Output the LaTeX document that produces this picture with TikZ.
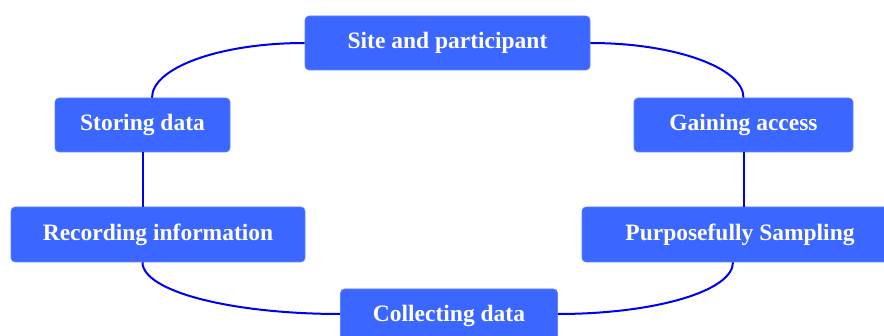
\documentclass[tikz,border=0pt]{standalone}
\usepackage{fontspec}
\setmainfont{Liberation Serif}
\definecolor{boxfill}{RGB}{59,102,255}
\definecolor{boxedge}{RGB}{96,132,255}
\definecolor{linkblue}{RGB}{0,0,240}
\begin{document}
\begin{tikzpicture}[x=1pt,y=1pt,
  stagebox/.style={rectangle, rounded corners=4pt, fill=boxfill, draw=boxedge, line width=0.6pt,
    text=white, font=\fontsize{23.5}{28}\selectfont\bfseries, minimum height=54pt, inner sep=0pt},
  link/.style={draw=linkblue, line width=2pt}]
  \useasboundingbox (0,0) rectangle (884,-336);

  % cycle stages
  \node[stagebox, minimum width=285pt] (site) at (447.5,-43) {Site and participant};
  \node[stagebox, minimum width=175pt] (sto)  at (142.5,-125) {Storing data};
  \node[stagebox, minimum width=219pt] (gain) at (743.5,-125) {Gaining access};
  \node[stagebox, minimum width=294pt, minimum height=55pt] (rec) at (158,-234.5) {Recording information};
  \node[stagebox, minimum width=316pt, minimum height=55pt] (pur) at (740,-234.5) {Purposefully Sampling};
  \node[stagebox, minimum width=217pt] (col) at (449,-316) {Collecting data};

  % attachment points on the box edges
  \coordinate (stoTop) at ([xshift=9.5pt]sto.north);
  \coordinate (stoBot) at (sto.south);
  \coordinate (recTop) at (rec.north -| stoBot);
  \coordinate (recBot) at (rec.south -| stoBot);
  \coordinate (purBot) at ([xshift=-7pt]pur.south);
  \coordinate (colW) at ([yshift=2pt]col.west);
  \coordinate (colE) at ([yshift=2pt]col.east);

  % connectors
  \path[link] (site.west) .. controls +(-85,0) and +(0,30) .. (stoTop);
  \path[link] (site.east) .. controls +(84,0) and +(0,30) .. (gain.north);
  \path[link] (stoBot) -- (recTop);
  \path[link] (gain.south) -- (pur.north -| gain.south);
  \path[link] (recBot) .. controls +(0,-29) and +(-109,0) .. (colW);
  \path[link] (purBot) .. controls +(0,-29) and +(96,0) .. (colE);
\end{tikzpicture}
\end{document}
